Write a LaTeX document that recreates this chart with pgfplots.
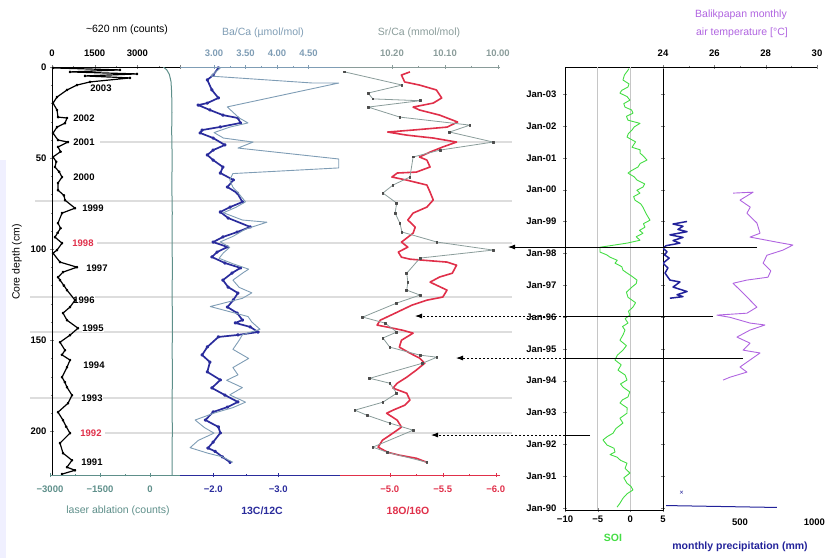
\documentclass[border=0pt]{standalone}
\usepackage{pgfplots}
\pgfplotsset{compat=1.18}
\usepackage{fontspec}
\setmainfont{Liberation Sans}
\usetikzlibrary{arrows.meta}
\definecolor{cteal}{HTML}{5E8F8A}
\definecolor{cblue}{HTML}{2A2C9C}
\definecolor{cbaca}{HTML}{7F9DB5}
\definecolor{csrca}{HTML}{8A9C9A}
\definecolor{cred}{HTML}{E0304A}
\definecolor{cgreen}{HTML}{44DD44}
\definecolor{cprec}{HTML}{22229A}
\definecolor{cpurp}{HTML}{B064E0}
\definecolor{cgrid}{HTML}{DDDDDD}
\newcommand{\tfont}{\fontsize{9.5}{10}\selectfont\bfseries}
\newcommand{\lfont}{\fontsize{10.5}{12}\selectfont}
\pgfplotsset{
  ov/.style={at={(0pt,0pt)}, anchor=north west, scale only axis, width=826pt, height=558pt,
    xmin=0, xmax=826, ymin=0, ymax=558, y dir=reverse, hide axis, clip=false},
  panel/.style={anchor=north west, scale only axis, height=408pt, ymin=0, ymax=224, y dir=reverse,
    tick label style={font=\tfont}, tick align=center, major tick length=4pt, minor tick length=2.5pt,
    line join=round},
  tpanel/.style={anchor=north west, scale only axis, height=443pt, ymin=1989.94, ymax=2003.85,
    tick label style={font=\tfont}, tick align=center, major tick length=4pt, minor tick length=2.5pt,
    line join=round},
}
\begin{document}
\begin{tikzpicture}
\path[use as bounding box] (0pt,0pt) rectangle (826pt,-558pt);
% ---------- background: grey event lines and year labels
\begin{axis}[ov]
\addplot[fill=blue!6, draw=none] coordinates {(0,160) (6,160) (6,558) (0,558)} -- cycle;
\foreach \yy/\xs in {142/100,201/35,243/97,297/30,332/30,398/30,433/105}{
  \edef\tmp{\noexpand\addplot[cgrid, line width=1.6pt] coordinates {(\xs,\yy) (512,\yy)};}\tmp
}
\node[font=\tfont, fill=white, inner sep=0.5pt] at (101,88) {2003};
\node[font=\tfont, fill=white, inner sep=0.5pt] at (84,118) {2002};
\node[font=\tfont, fill=white, inner sep=0.5pt] at (84,142) {2001};
\node[font=\tfont, fill=white, inner sep=0.5pt] at (84,177) {2000};
\node[font=\tfont, fill=white, inner sep=0.5pt] at (93,208) {1999};
\node[font=\tfont, fill=white, inner sep=0.5pt, text=cred] at (83,243) {1998};
\node[font=\tfont, fill=white, inner sep=0.5pt] at (97,268) {1997};
\node[font=\tfont, fill=white, inner sep=0.5pt] at (84,300) {1996};
\node[font=\tfont, fill=white, inner sep=0.5pt] at (93,328) {1995};
\node[font=\tfont, fill=white, inner sep=0.5pt] at (94,365) {1994};
\node[font=\tfont, fill=white, inner sep=0.5pt] at (92,398) {1993};
\node[font=\tfont, fill=white, inner sep=0.5pt, text=cred] at (91,433) {1992};
\node[font=\tfont, fill=white, inner sep=0.5pt] at (92,462) {1991};
\end{axis}
% ---------- panel 1: grey scale (counts)
\begin{axis}[panel, at={(52pt,-67pt)}, width=128pt, xmin=0, xmax=4500,
  axis x line*=top, axis y line*=left, axis line style={black, line width=0.9pt},
  xtick={0,1500,3000,4500}, xticklabels={0,1500,3000,{}}, minor x tick num=1,
  xticklabel style={yshift=5pt},
  ytick={0,50,100,150,200}, yticklabels={0,50,100,150,200}, minor y tick num=4]
\addplot[black, line width=1.2pt, mark=*, mark size=0.8pt] coordinates {
(35,0.5) (2391,1.6) (633,2.7) (2989,3.8) (1160,4.9) (2742,6.0) (1336,8.2) (879,9.9) (527,12.6)
(176,16.5) (35,19.8) (176,23.6) (211,27.5) (527,28.0) (457,30.8) (176,33.0) (35,36.3) (211,40.1)
(563,41.2) (211,43.9) (300,46.5) (35,49.4) (150,52.0) (105,54.9) (250,57.5) (352,60.4) (211,63.7)
(211,67.6) (420,70.5) (457,73.1) (809,77.5) (352,80.2) (211,85.7) (300,88.5) (200,91.0) (105,93.4)
(352,96.7) (176,100.5) (35,102.2) (281,107.1) (879,109.9) (387,112.6) (211,115.4) (281,117.0)
(420,120.0) (527,122.5) (809,128.0) (633,131.8) (387,135.1) (527,139.0) (914,143.4) (633,147.2)
(281,151.1) (457,155.5) (350,158.0) (633,160.9) (527,164.8) (352,170.3) (450,173.0) (527,175.8)
(703,180.2) (563,184.6) (211,189.5) (387,193.9) (500,197.5) (633,201.0) (281,206.5) (387,212.0)
(703,215.9) (527,219.7) (809,221.4) (352,223.5)};
\end{axis}
% ---------- panel 1b: laser ablation
\begin{axis}[panel, at={(50pt,-67pt)}, width=130pt, xmin=-3000, xmax=900,
  axis x line*=bottom, hide y axis, axis line style={cteal, line width=1pt}, tick style={cteal},
  xtick={-3000,-1500,0}, xticklabels={−3000,−1500,0}, minor x tick num=1,
  xticklabel style={yshift=-5pt, text=cteal}]
\addplot[cteal, line width=1pt] coordinates {
(400,0) (500,1.5) (580,4) (630,8) (650,14) (660,25) (650,35) (665,50) (655,65) (668,80) (660,95)
(672,110) (662,125) (675,140) (665,155) (672,170) (662,185) (670,200) (660,212) (665,224)};
\end{axis}
% ---------- panel 2a: 13C/12C
\begin{axis}[panel, at={(180pt,-67pt)}, width=160pt, xmin=-3.95, xmax=-1.49, x dir=reverse,
  axis x line*=bottom, hide y axis, axis line style={cblue, line width=1pt}, tick style={cblue},
  xtick={-2,-3}, xticklabels={−2.0,−3.0}, minor x tick num=1,
  xticklabel style={yshift=-5pt, text=cblue}]
\addplot[cblue, line width=1.7pt, mark=*, mark size=0.9pt] coordinates {
(-2.08,0.5) (-2.00,4.4) (-1.91,7.1) (-1.98,12.6) (-2.08,17.0) (-1.91,19.8) (-1.77,20.9) (-1.95,23.6)
(-2.15,26.4) (-2.38,28.0) (-2.42,30.7) (-2.11,32.9) (-1.83,34.6) (-1.80,36.2) (-2.00,39.0) (-2.18,42.8)
(-2.00,45.6) (-1.91,48.3) (-2.00,51.1) (-2.15,54.9) (-2.11,58.2) (-2.31,62.0) (-2.22,65.9) (-2.37,69.2)
(-2.45,74.1) (-2.26,76.9) (-2.11,79.6) (-2.23,82.9) (-2.57,87.8) (-2.37,90.6) (-2.15,93.3) (-2.00,96.1)
(-2.22,98.8) (-2.06,101.6) (-1.98,104.3) (-2.18,107.6) (-2.42,110.3) (-2.29,113.1) (-2.15,117.0)
(-2.23,120.8) (-2.38,124.1) (-2.31,127.9) (-2.22,131.8) (-2.37,135.1) (-2.45,138.9) (-2.34,140.5)
(-2.57,142.7) (-2.69,145.5) (-2.38,147.1) (-2.08,148.2) (-1.91,153.7) (-1.83,158.1) (-1.95,162.0)
(-1.91,167.4) (-2.11,171.8) (-1.98,176.2) (-2.18,180.1) (-2.38,183.9) (-2.22,186.7) (-2.00,189.4)
(-1.88,193.8) (-2.08,197.6) (-2.11,200.9) (-2.00,205.9) (-1.92,209.2) (-2.03,211.0) (-2.14,214.0)
(-2.26,217.0)};
\end{axis}
% ---------- panel 2b: Ba/Ca
\begin{axis}[panel, at={(180pt,-67pt)}, width=160pt, xmin=2.46, xmax=5.0,
  axis x line*=top, hide y axis, axis line style={cbaca, line width=1pt}, tick style={cbaca},
  xtick={3,3.5,4,4.5}, xticklabels={3.00,3.50,4.00,4.50}, minor x tick num=1,
  xticklabel style={yshift=5pt, text=cbaca}]
\addplot[cbaca, line width=0.9pt] coordinates {
(3.10,0.5) (2.95,5.0) (4.57,8.8) (4.98,8.8) (3.21,21.9) (3.40,28.0) (3.54,30.7) (3.25,33.0) (3.00,36.0)
(3.15,39.0) (3.62,41.2) (3.38,44.5) (4.98,50.5) (4.98,55.4) (3.30,58.5) (3.25,62.0) (3.30,66.0)
(3.38,69.0) (3.50,74.0) (3.35,77.0) (3.15,80.0) (3.45,84.0) (3.84,85.2) (3.50,89.0) (3.30,93.0)
(3.10,96.0) (3.25,99.0) (3.15,102.0) (3.08,105.0) (3.30,108.0) (3.55,111.0) (3.46,113.0) (3.30,117.0)
(3.40,121.0) (3.60,124.0) (3.45,127.0) (2.94,131.5) (3.54,137.0) (3.60,140.0) (3.73,144.0)
(3.45,147.0) (3.40,150.0) (3.30,155.0) (3.55,160.0) (3.30,165.0) (3.38,169.0) (3.20,172.0)
(3.45,176.0) (3.25,180.0) (3.50,184.0) (3.30,187.0) (3.00,190.0) (2.70,193.8) (2.85,198.0)
(3.00,201.0) (2.75,205.0) (2.62,209.0) (2.90,212.0) (3.13,214.0) (3.30,217.0)};
\end{axis}
% ---------- panel 3a: 18O/16O
\begin{axis}[panel, at={(340pt,-67pt)}, width=160pt, xmin=-6.04, xmax=-4.53, x dir=reverse,
  axis x line*=bottom, hide y axis, axis line style={cred, line width=1pt}, tick style={cred},
  xtick={-5,-5.5,-6}, xticklabels={−5.0,−5.5,−6.0}, minor x tick num=1,
  xticklabel style={yshift=-5pt, text=cred}]
\addplot[cred, line width=1.6pt] coordinates {
(-5.19,2.7) (-5.11,4.4) (-5.14,8.2) (-5.28,9.9) (-5.44,12.6) (-5.49,17.0) (-5.41,19.8) (-5.22,22.0)
(-5.28,23.6) (-5.47,26.4) (-5.64,30.2) (-5.54,33.0) (-5.22,34.6) (-4.98,35.7) (-5.16,37.4) (-5.41,39.0)
(-5.63,41.2) (-5.50,43.9) (-5.38,46.7) (-5.28,49.4) (-5.35,51.1) (-5.38,54.9) (-5.25,57.7) (-5.07,58.2)
(-5.02,60.4) (-5.16,62.1) (-5.35,64.8) (-5.38,68.7) (-5.41,73.0) (-5.35,76.9) (-5.22,80.2) (-5.17,84.0)
(-5.24,87.9) (-5.22,91.2) (-5.16,93.9) (-5.11,96.1) (-5.17,98.9) (-5.08,101.6) (-5.11,104.4)
(-5.19,105.5) (-5.54,107.1) (-5.63,108.8) (-5.59,113.2) (-5.47,115.3) (-5.38,118.1) (-5.54,122.5)
(-5.50,126.3) (-5.35,128.0) (-5.21,130.7) (-5.07,134.6) (-4.91,139.0) (-4.88,141.7) (-4.98,142.8)
(-5.12,144.5) (-5.22,146.1) (-5.11,150.0) (-5.09,153.8) (-5.19,157.1) (-5.28,159.8) (-5.33,162.6)
(-5.25,166.4) (-5.16,170.3) (-5.07,173.6) (-5.03,176.3) (-5.16,179.1) (-5.19,182.9) (-5.14,185.7)
(-5.03,188.4) (-4.97,190.1) (-5.07,193.9) (-5.11,197.7) (-5.03,201.0) (-4.93,204.9) (-4.89,208.7)
(-4.98,211.5) (-5.09,213.1) (-5.25,214.8) (-5.35,217.0)};
\end{axis}
% ---------- panel 3b: Sr/Ca
\begin{axis}[panel, at={(340pt,-67pt)}, width=160pt, xmin=9.996, xmax=10.298, x dir=reverse,
  axis x line*=top, hide y axis, axis line style={csrca, line width=1pt}, tick style={csrca},
  xtick={10.2,10.1,10.0}, xticklabels={10.20,10.10,10.00}, minor x tick num=1,
  xticklabel style={yshift=5pt, text=csrca}]
\addplot[csrca, line width=0.8pt, mark=square*, mark size=0.9pt, mark options={fill=black!70, draw=black!70}] coordinates {
(10.289,2.7) (10.181,9.9) (10.245,14.3) (10.236,17.5) (10.147,18.5) (10.245,22.0) (10.185,27.5)
(10.053,31.9) (10.091,35.7) (10.009,41.2) (10.109,45.6) (10.160,49.4) (10.166,60.4) (10.198,64.8)
(10.217,69.2) (10.191,74.7) (10.194,80.2) (10.185,85.7) (10.181,90.6) (10.115,96.1) (10.009,100.5)
(10.147,104.9) (10.172,113.2) (10.170,118.1) (10.172,122.5) (10.147,125.2) (10.191,129.6)
(10.255,137.3) (10.213,140.6) (10.191,145.5) (10.217,148.8) (10.204,153.8) (10.147,158.2)
(10.115,159.3) (10.142,162.6) (10.242,170.9) (10.204,173.6) (10.191,179.1) (10.217,184.0)
(10.270,188.4) (10.247,191.2) (10.204,195.5) (10.160,199.4) (10.236,208.7) (10.209,211.5)
(10.134,217.0)};
\end{axis}
% ---------- SOI panel
\begin{axis}[tpanel, at={(565pt,-67pt)}, width=98pt, xmin=-10, xmax=5,
  axis line style={black, line width=0.9pt},
  xtick={-10,-5,0,5}, xticklabels={−10,−5,0,5}, xtick pos=left,
  ytick={1990,...,2003},
  yticklabels={Jan-90,Jan-91,Jan-92,Jan-93,Jan-94,Jan-95,Jan-96,Jan-97,Jan-98,Jan-99,Jan-00,Jan-01,Jan-02,Jan-03},
  yticklabel style={xshift=-3pt}, ytick pos=both, minor y tick num=3]
\addplot[gray!45, line width=1pt] coordinates {(-5,1989.94) (-5,2003.85)};
\addplot[gray!45, line width=1pt] coordinates {(0,1989.94) (0,2003.85)};
\addplot[cgreen, line width=0.9pt] coordinates {
(-0.2,2003.80) (-0.36,2003.75) (-0.9,2003.60) (-1.13,2003.44) (-0.2,2003.32) (-0.36,2003.22)
(-1.3,2003.12) (-1.59,2003.03) (-0.5,2002.92) (-0.06,2002.81) (-1.0,2002.70) (-0.82,2002.59)
(0.2,2002.50) (0.40,2002.40) (-0.6,2002.30) (-0.36,2002.18) (1.48,2002.08) (0.6,2001.97)
(0.25,2001.87) (-0.3,2001.76) (-0.51,2001.65) (0.8,2001.50) (0.25,2001.33) (1.5,2001.25)
(1.48,2001.15) (2.0,2001.05) (2.55,2000.93) (1.5,2000.82) (1.17,2000.71) (0.2,2000.60)
(-0.36,2000.52) (0.6,2000.40) (1.02,2000.30) (2.2,2000.18) (1.93,2000.08) (1.0,1999.98)
(1.48,1999.89) (0.5,1999.78) (0.71,1999.67) (1.6,1999.55) (1.93,1999.45) (2.4,1999.25)
(3.01,1999.04) (2.0,1998.93) (2.24,1998.82) (1.4,1998.72) (1.93,1998.63) (0.9,1998.52)
(1.48,1998.41) (-0.51,1998.32) (-4.65,1998.19) (-4.65,1998.04) (-3.6,1997.95) (-3.12,1997.88)
(-2.0,1997.78) (-2.35,1997.69) (-1.3,1997.58) (-1.13,1997.47) (-0.5,1997.38) (0.3,1997.27)
(1.02,1997.16) (0.9,1997.05) (0.25,1996.94) (-0.6,1996.78) (-0.36,1996.62) (0.8,1996.45)
(0.40,1996.31) (-0.3,1996.18) (-0.06,1996.06) (-0.8,1995.95) (-0.36,1995.81) (-1.2,1995.70)
(-0.82,1995.59) (-1.1,1995.45) (-1.59,1995.27) (-0.6,1995.10) (-1.13,1994.96) (-2.0,1994.80)
(-2.35,1994.65) (-1.4,1994.50) (-1.89,1994.33) (-0.8,1994.18) (-0.51,1994.02) (-1.5,1993.90)
(-1.13,1993.80) (-0.1,1993.65) (-0.36,1993.49) (-1.2,1993.40) (-1.59,1993.30) (-0.5,1993.15)
(-0.51,1992.98) (-1.6,1992.82) (-1.13,1992.67) (-2.2,1992.50) (-2.66,1992.35) (-3.5,1992.25)
(-4.19,1992.14) (-3.57,1991.98) (-2.5,1991.88) (-2.35,1991.76) (-3.1,1991.68) (-2.04,1991.60)
(-1.5,1991.50) (-0.51,1991.41) (-0.8,1991.25) (-0.06,1991.10) (-1.0,1990.95) (-0.51,1990.78)
(0.1,1990.68) (0.40,1990.57) (-0.5,1990.45) (-1.13,1990.31) (-1.6,1990.15) (-2.04,1990.03)};
\end{axis}
% ---------- temperature
\begin{axis}[tpanel, at={(663pt,-67pt)}, width=154pt, xmin=24, xmax=30,
  axis x line*=top, hide y axis, axis line style={black, line width=0.9pt},
  xtick={24,26,28,30}, xticklabels={24,26,28,30}, minor x tick num=1,
  xticklabel style={yshift=5pt}]
\addplot[cpurp, line width=0.9pt] coordinates {
(26.73,1999.89) (27.51,1999.92) (27.00,1999.67) (27.40,1999.45) (27.27,1999.26) (27.66,1998.95)
(27.78,1998.63) (27.39,1998.51) (28.44,1998.35) (29.06,1998.26) (28.67,1998.10) (28.05,1997.94)
(27.90,1997.69) (28.20,1997.45) (28.09,1997.25) (27.27,1997.16) (26.73,1997.06) (27.12,1996.75)
(27.39,1996.53) (27.66,1996.31) (27.27,1996.12) (26.10,1996.06) (26.61,1995.99) (27.39,1995.81)
(27.97,1995.75) (27.39,1995.59) (26.88,1995.37) (27.39,1995.18) (27.12,1994.96) (27.78,1994.87)
(27.39,1994.65) (27.00,1994.43) (27.27,1994.27) (26.61,1994.11) (26.34,1994.02)};
\end{axis}
% ---------- precipitation
\begin{axis}[tpanel, at={(663pt,-67pt)}, width=154pt, xmin=0, xmax=1000,
  axis x line*=bottom, x axis line style={draw=none}, hide y axis, major tick length=0pt,
  xtick={500,1000}, xticklabels={500,{\makebox[0pt][r]{1000\hspace*{-8pt}}}}, xticklabel style={yshift=-5pt}]
\addplot[cprec, line width=1.5pt] coordinates {
(156,1999.00) (65,1998.92) (130,1998.85) (97,1998.75) (156,1998.68) (45,1998.58) (130,1998.50)
(65,1998.40) (110,1998.32) (20,1998.24) (0,1998.16) (26,1998.05) (10,1997.95) (40,1997.85)
(0,1997.69) (32,1997.54) (13,1997.38) (45,1997.16) (110,1997.10) (65,1996.94) (156,1996.80)
(91,1996.70) (130,1996.64) (45,1996.59)};
\addplot[cprec, line width=1pt] coordinates {(20,1990.08) (740,1990.02)};
\addplot[only marks, mark=x, mark size=2pt, cprec] coordinates {(120,1990.5)};
\end{axis}
% ---------- arrows and labels on top
\begin{axis}[ov]
\addplot[black, line width=0.8pt, -{Latex[length=7pt,width=5pt]}] coordinates {(757,247) (508,247)};
\addplot[black, line width=0.8pt] coordinates {(713,316) (565,316)};
\addplot[black, line width=0.8pt, dash pattern=on 2.5pt off 1.5pt, -{Latex[length=7pt,width=5pt]}] coordinates {(565,316) (415,316)};
\addplot[black, line width=0.8pt] coordinates {(743,358) (565,358)};
\addplot[black, line width=0.8pt, dash pattern=on 2.5pt off 1.5pt, -{Latex[length=7pt,width=5pt]}] coordinates {(565,358) (456,358)};
\addplot[black, line width=0.8pt] coordinates {(590,435) (565,435)};
\addplot[black, line width=0.8pt, dash pattern=on 2.5pt off 1.5pt, -{Latex[length=7pt,width=5pt]}] coordinates {(565,435) (431,435)};
\node[font=\lfont] at (127,30) {\textasciitilde620 nm (counts)};
\node[font=\lfont, text=cbaca] at (263,33) {Ba/Ca (µmol/mol)};
\node[font=\lfont, text=csrca] at (419,33) {Sr/Ca (mmol/mol)};
\node[font=\lfont, text=cpurp] at (741,15) {Balikpapan monthly};
\node[font=\lfont, text=cpurp] at (742,33) {air temperature [°C]};
\node[font=\lfont, text=cteal] at (118,511) {laser ablation (counts)};
\node[font=\lfont\bfseries, text=cblue] at (262,511) {13C/12C};
\node[font=\lfont\bfseries, text=cred] at (408,511) {18O/16O};
\node[font=\lfont\bfseries, text=cgreen] at (613,538) {SOI};
\node[font=\lfont\bfseries, text=cprec] at (740,547) {monthly precipitation (mm)};
\node[font=\lfont, rotate=90] at (17,262) {Core depth (cm)};
\end{axis}
\end{tikzpicture}
\end{document}
